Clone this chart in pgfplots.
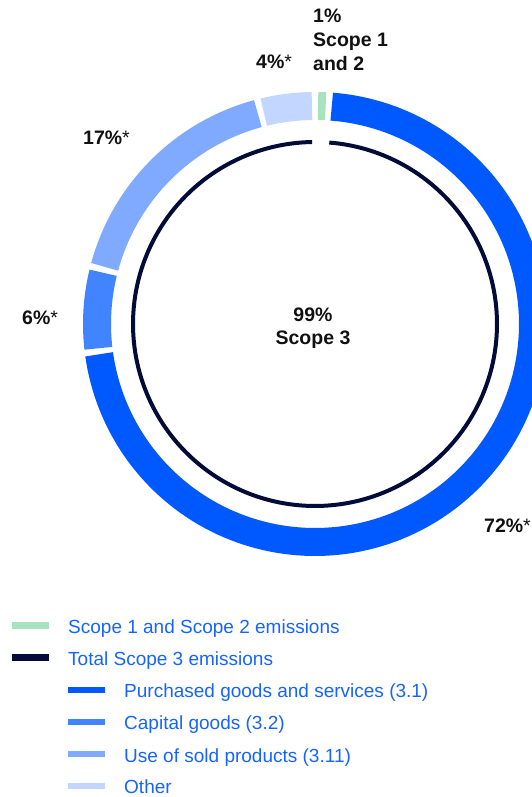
\documentclass[border=0pt]{standalone}
\usepackage{pgfplots}
\pgfplotsset{compat=1.18}
\usepackage{pgfplotstable}
\usepackage{fontspec}
\setmainfont{Liberation Sans}

\definecolor{scgreen}{RGB}{168,226,190}
\definecolor{pblue}{RGB}{0,88,255}
\definecolor{cblue}{RGB}{64,132,255}
\definecolor{ublue}{RGB}{127,170,255}
\definecolor{oblue}{RGB}{194,214,255}
\definecolor{navy}{RGB}{3,12,56}
\definecolor{legtext}{RGB}{22,100,255}
\definecolor{labtext}{RGB}{17,17,17}

% share of emissions, clockwise from 12 o'clock
\pgfplotstableread{
seg pct
1 1
2 72
3 6
4 17
5 4
}\ringdata

\pgfplotstablegetelem{0}{pct}\of\ringdata \let\pA\pgfplotsretval
\pgfplotstablegetelem{1}{pct}\of\ringdata \let\pB\pgfplotsretval
\pgfplotstablegetelem{2}{pct}\of\ringdata \let\pC\pgfplotsretval
\pgfplotstablegetelem{3}{pct}\of\ringdata \let\pD\pgfplotsretval
\pgfplotstablegetelem{4}{pct}\of\ringdata \let\pE\pgfplotsretval

\pgfmathsetmacro\aO{90}
\pgfmathsetmacro\aA{\aO-3.6*\pA}
\pgfmathsetmacro\aB{\aA-3.6*\pB}
\pgfmathsetmacro\aC{\aB-3.6*\pC}
\pgfmathsetmacro\aD{\aC-3.6*\pD}
\pgfmathsetmacro\aE{\aD-3.6*\pE}
\pgfmathsetmacro\g{0.8}
% segment domains (start:end, increasing)
\pgfmathsetmacro\sAl{\aA+\g}\pgfmathsetmacro\sAh{\aO-\g}
\pgfmathsetmacro\sBl{\aB+\g}\pgfmathsetmacro\sBh{\aA-\g}
\pgfmathsetmacro\sCl{\aC+\g}\pgfmathsetmacro\sCh{\aB-\g}
\pgfmathsetmacro\sDl{\aD+\g}\pgfmathsetmacro\sDh{\aC-\g}
\pgfmathsetmacro\sEl{\aE+\g}\pgfmathsetmacro\sEh{\aD-\g}
% inner circle: total scope 3 (99%)
\pgfmathsetmacro\iL{\aE+0.9}\pgfmathsetmacro\iH{\aA-0.9}

\newcommand{\lab}{\fontsize{19.5}{23}\selectfont\bfseries\color{labtext}}
\newcommand{\leg}{\fontsize{19}{23}\selectfont\color{legtext}}

\begin{document}
\begin{tikzpicture}
\path[use as bounding box, clip] (0,0) rectangle (532pt,797pt);
\begin{axis}[
  at={(0,0)}, anchor=south west,
  width=532pt, height=797pt, scale only axis,
  xmin=-315, xmax=217, ymin=-473, ymax=324,
  hide axis, clip=false,
]
% outer ring
\addplot[scgreen, line width=28pt, data cs=polar, domain=\sAl:\sAh, samples=5] ({x},{218});
\addplot[pblue,   line width=28pt, data cs=polar, domain=\sBl:\sBh, samples=150] ({x},{218});
\addplot[cblue,   line width=28pt, data cs=polar, domain=\sCl:\sCh, samples=20] ({x},{218});
\addplot[ublue,   line width=28pt, data cs=polar, domain=\sDl:\sDh, samples=50] ({x},{218});
\addplot[oblue,   line width=28pt, data cs=polar, domain=\sEl:\sEh, samples=15] ({x},{218});
% inner circle
\addplot[navy, line width=4pt, data cs=polar, domain=\iL:\iH, samples=200] ({x},{182});

% labels
\node[anchor=base west, inner sep=0] at (axis cs:-2,301) {\lab 1\%};
\node[anchor=base west, inner sep=0] at (axis cs:-2,277.5) {\lab Scope 1};
\node[anchor=base west, inner sep=0] at (axis cs:-2,253.5) {\lab and 2};
\node[anchor=base west, inner sep=0] at (axis cs:-59,255.5) {\lab 4\%\textmd{*}};
\node[anchor=base west, inner sep=0] at (axis cs:-232,179) {\lab 17\%\textmd{*}};
\node[anchor=base west, inner sep=0] at (axis cs:-293,-1) {\lab 6\%\textmd{*}};
\node[anchor=base east, inner sep=0] at (axis cs:216,-209) {\lab 72\%\textmd{*}};
\node[anchor=base, inner sep=0] at (axis cs:-2,2) {\lab 99\%};
\node[anchor=base, inner sep=0] at (axis cs:-2,-21) {\lab Scope 3};

% legend
\addplot[scgreen, line width=7pt] coordinates {(-303.5,-302) (-266,-302)};
\addplot[navy,    line width=7pt] coordinates {(-303.5,-333.5) (-266,-333.5)};
\addplot[pblue,   line width=6pt] coordinates {(-247,-366.5) (-210,-366.5)};
\addplot[cblue,   line width=6pt] coordinates {(-247,-398) (-210,-398)};
\addplot[ublue,   line width=6pt] coordinates {(-247,-430) (-210,-430)};
\addplot[oblue,   line width=6pt] coordinates {(-247,-462) (-210,-462)};
\node[anchor=base west, inner sep=0] at (axis cs:-247,-310) {\leg Scope 1 and Scope 2 emissions};
\node[anchor=base west, inner sep=0] at (axis cs:-247,-341.7) {\leg Total Scope 3 emissions};
\node[anchor=base west, inner sep=0] at (axis cs:-191,-374) {\leg Purchased goods and services (3.1)};
\node[anchor=base west, inner sep=0] at (axis cs:-191,-406) {\leg Capital goods (3.2)};
\node[anchor=base west, inner sep=0] at (axis cs:-191,-438) {\leg Use of sold products (3.11)};
\node[anchor=base west, inner sep=0] at (axis cs:-191,-469) {\leg Other};
\end{axis}
\end{tikzpicture}
\end{document}
